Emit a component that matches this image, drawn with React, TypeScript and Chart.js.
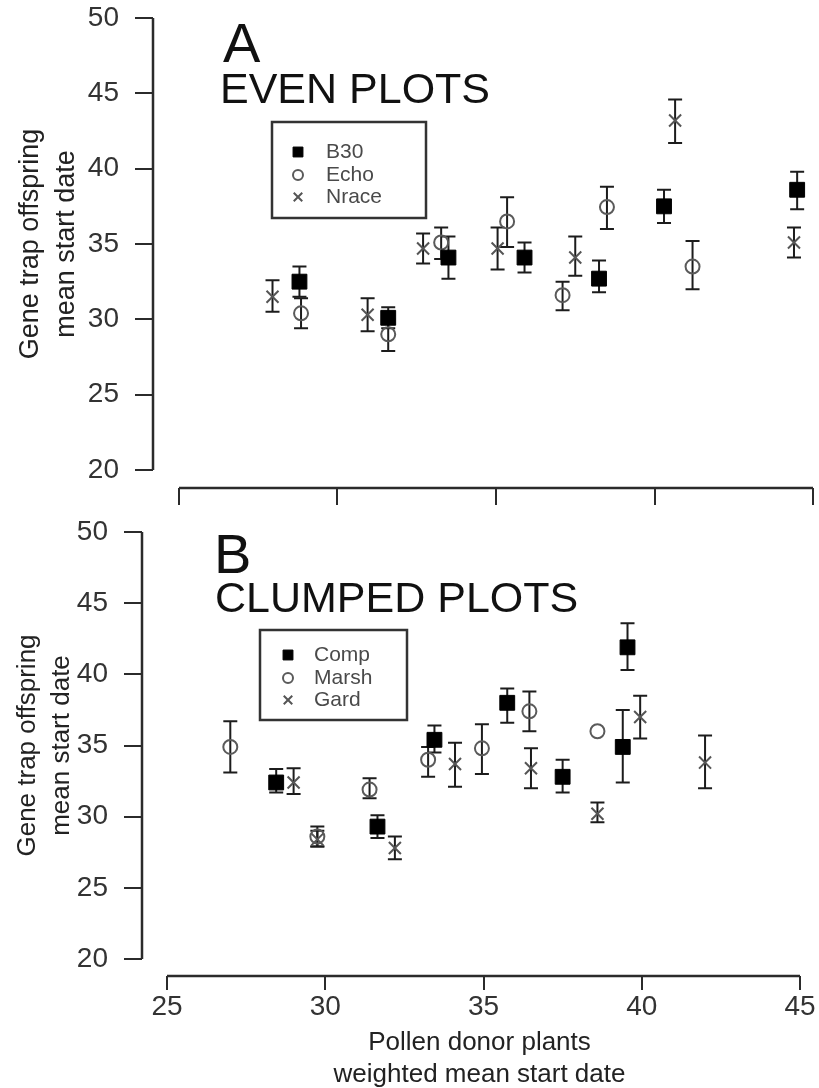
import React, { useEffect, useRef } from "react";
import { Chart, registerables } from "chart.js";
import { drawPoint } from "chart.js/helpers";

Chart.register(...registerables);

const FONT = "'Liberation Sans', Arial, Helvetica, sans-serif";

// ---- shared axes ----
const xTicks = [25, 30, 35, 40, 45];
const yTicks = [20, 25, 30, 35, 40, 45, 50];
const yTitle = ["Gene trap offspring", "mean start date"];
const xTitle = ["Pollen donor plants", "weighted mean start date"];

// ---- Panel A: EVEN PLOTS ----
const evenLabels = ["B30", "Echo", "Nrace"];
const evenB30X = [28.8, 31.6, 33.5, 35.9, 38.25, 40.3, 44.5];
const evenB30Y = [32.5, 30.1, 34.1, 34.1, 32.7, 37.5, 38.6];
const evenB30Lo = [31.5, 29.4, 32.7, 33.1, 31.8, 36.4, 37.3];
const evenB30Hi = [33.5, 30.8, 35.5, 35.1, 33.9, 38.6, 39.8];

const evenEchoX = [28.85, 31.6, 33.27, 35.35, 37.1, 38.5, 41.2];
const evenEchoY = [30.4, 29.0, 35.1, 36.5, 31.6, 37.45, 33.5];
const evenEchoLo = [29.4, 27.9, 34.0, 34.8, 30.6, 36.0, 32.0];
const evenEchoHi = [31.4, 30.0, 36.1, 38.1, 32.5, 38.8, 35.2];

const evenNraceX = [27.95, 30.95, 32.7, 35.05, 37.5, 40.65, 44.4];
const evenNraceY = [31.5, 30.3, 34.7, 34.7, 34.1, 43.2, 35.1];
const evenNraceLo = [30.5, 29.2, 33.7, 33.3, 32.9, 41.7, 34.1];
const evenNraceHi = [32.6, 31.4, 35.7, 36.1, 35.5, 44.6, 36.1];

// ---- Panel B: CLUMPED PLOTS ----
const clumpLabels = ["Comp", "Marsh", "Gard"];
const clumpCompX = [28.45, 31.65, 33.45, 35.75, 37.5, 39.55, 39.4];
const clumpCompY = [32.4, 29.3, 35.4, 38.0, 32.8, 41.9, 34.9];
const clumpCompLo = [31.7, 28.5, 34.5, 36.6, 31.7, 40.3, 32.4];
const clumpCompHi = [33.35, 30.1, 36.4, 39.0, 34.0, 43.6, 37.5];

const clumpMarshX = [27.0, 29.75, 31.4, 33.25, 34.95, 36.45, 38.6];
const clumpMarshY = [34.9, 28.6, 31.9, 34.0, 34.8, 37.4, 36.0];
const clumpMarshLo = [33.1, 27.9, 31.3, 32.8, 33.0, 36.0, null];
const clumpMarshHi = [36.7, 29.3, 32.7, 34.9, 36.5, 38.8, null];

const clumpGardX = [29.0, 29.75, 32.2, 34.1, 36.5, 38.6, 39.95, 42.0];
const clumpGardY = [32.4, 28.4, 27.8, 33.7, 33.4, 30.2, 37.0, 33.8];
const clumpGardLo = [31.6, 27.9, 27.0, 32.1, 32.0, 29.6, 35.5, 32.0];
const clumpGardHi = [33.4, 29.0, 28.6, 35.2, 34.8, 31.0, 38.5, 35.7];

// ---- marker styles ----
const squareStyle = { pointStyle: "rect", pointRadius: 10.5, backgroundColor: "#000", borderColor: "#000", borderWidth: 1, legendRadius: 7 };
const circleStyle = { pointStyle: "circle", pointRadius: 7, backgroundColor: "rgba(0,0,0,0)", borderColor: "#5a5a5a", borderWidth: 2, legendRadius: 5 };
const crossStyle = { pointStyle: "crossRot", pointRadius: 8.5, backgroundColor: "#555", borderColor: "#555", borderWidth: 2, legendRadius: 6 };

function series(label: string, xs: number[], ys: number[], lo: (number | null)[], hi: (number | null)[], style: any) {
  return {
    label,
    data: xs.map((x, i) => ({ x, y: ys[i] })),
    errLo: lo,
    errHi: hi,
    showLine: false,
    pointHoverRadius: style.pointRadius,
    ...style,
  };
}

const errorBars = {
  id: "errorBars",
  beforeDatasetsDraw(chart: any) {
    const { ctx } = chart;
    const xs = chart.scales.x;
    const ys = chart.scales.y;
    chart.data.datasets.forEach((ds: any) => {
      ctx.save();
      ctx.strokeStyle = "#1c1c1c";
      ctx.lineWidth = 2;
      ds.data.forEach((p: any, j: number) => {
        const lo = ds.errLo[j];
        const hi = ds.errHi[j];
        if (lo == null || hi == null) return;
        const x = xs.getPixelForValue(p.x);
        const y1 = ys.getPixelForValue(lo);
        const y2 = ys.getPixelForValue(hi);
        ctx.beginPath();
        ctx.moveTo(x, y1);
        ctx.lineTo(x, y2);
        ctx.moveTo(x - 7, y1);
        ctx.lineTo(x + 7, y1);
        ctx.moveTo(x - 7, y2);
        ctx.lineTo(x + 7, y2);
        ctx.stroke();
      });
      ctx.restore();
    });
  },
};

const rAxes = {
  id: "rAxes",
  afterDraw(chart: any) {
    const { ctx, chartArea } = chart;
    const xs = chart.scales.x;
    const ys = chart.scales.y;
    ctx.save();
    ctx.strokeStyle = "#2b2b2b";
    ctx.lineWidth = 2.5;
    ctx.beginPath();
    ctx.moveTo(chartArea.left, ys.getPixelForValue(yTicks[0]));
    ctx.lineTo(chartArea.left, ys.getPixelForValue(yTicks[yTicks.length - 1]));
    ctx.moveTo(xs.getPixelForValue(xTicks[0]), chartArea.bottom);
    ctx.lineTo(xs.getPixelForValue(xTicks[xTicks.length - 1]), chartArea.bottom);
    ctx.stroke();
    ctx.restore();
  },
};

const panelDecor = {
  id: "panelDecor",
  afterDraw(chart: any, _args: any, o: any) {
    const { ctx } = chart;
    ctx.save();
    ctx.fillStyle = "#111";
    ctx.textBaseline = "alphabetic";
    ctx.textAlign = "left";
    ctx.font = `56px ${FONT}`;
    ctx.fillText(o.letter, o.letterX, o.letterY);
    ctx.font = `43px ${FONT}`;
    ctx.fillText(o.title, o.titleX, o.titleY);
    // legend box
    const [bx, by, bw, bh] = o.box;
    ctx.strokeStyle = "#333";
    ctx.lineWidth = 2.5;
    ctx.strokeRect(bx, by, bw, bh);
    ctx.font = `21px ${FONT}`;
    ctx.textBaseline = "middle";
    chart.data.datasets.forEach((ds: any, i: number) => {
      const y = o.rowY[i];
      ctx.fillStyle = ds.backgroundColor;
      ctx.strokeStyle = ds.borderColor;
      ctx.lineWidth = ds.borderWidth;
      drawPoint(ctx, { pointStyle: ds.pointStyle, radius: ds.legendRadius, rotation: 0, borderWidth: ds.borderWidth }, o.symX, y);
      ctx.fillStyle = "#4a4a4a";
      ctx.fillText(ds.label, o.textX, y);
    });
    ctx.restore();
  },
};

function makeConfig(p: any) {
  return {
    type: "scatter",
    data: { datasets: p.datasets },
    options: {
      responsive: false,
      animation: false,
      devicePixelRatio: 1,
      layout: { autoPadding: false, padding: { top: p.padTop, right: 2, left: 0, bottom: 0 } },
      plugins: {
        legend: { display: false },
        tooltip: { enabled: false },
        panelDecor: p.decor,
      },
      scales: {
        x: {
          type: "linear",
          min: p.xMin,
          max: p.xMax,
          afterBuildTicks: (s: any) => {
            s.ticks = xTicks.map((v) => ({ value: v }));
          },
          afterFit: (s: any) => {
            s.height = p.xHeight;
            s.paddingLeft = 0;
            s.paddingRight = 0;
            s.paddingTop = 0;
            s.paddingBottom = 0;
          },
          grid: { drawOnChartArea: false, drawTicks: true, tickLength: p.xTickLen, color: "#2b2b2b", lineWidth: 2 },
          border: { display: false },
          ticks: {
            display: p.showXLabels,
            font: { family: FONT, size: 28 },
            color: "#333",
            padding: 0,
            maxRotation: 0,
          },
          title: {
            display: p.showXLabels,
            text: xTitle,
            font: { family: FONT, size: 26, lineHeight: "32px" },
            color: "#222",
            padding: { top: 0, bottom: -3 },
          },
        },
        y: {
          type: "linear",
          min: 18.8,
          max: 51.2,
          afterBuildTicks: (s: any) => {
            s.ticks = yTicks.map((v) => ({ value: v }));
          },
          afterFit: (s: any) => {
            s.width = p.yWidth;
            s.paddingLeft = 0;
            s.paddingRight = 0;
            s.paddingTop = 0;
            s.paddingBottom = 0;
          },
          grid: { drawOnChartArea: false, drawTicks: true, tickLength: 18, color: "#2b2b2b", lineWidth: 2 },
          border: { display: false },
          ticks: { font: { family: FONT, size: 28 }, color: "#333", padding: 16 },
          title: {
            display: true,
            text: yTitle,
            font: { family: FONT, size: p.yTitleSize, lineHeight: p.yTitleLH },
            color: "#222",
            padding: { top: p.yTitlePad, bottom: 0 },
          },
        },
      },
    },
    plugins: [errorBars, rAxes, panelDecor],
  };
}

function Panel({ config, top, height }: { config: any; top: number; height: number }) {
  const ref = useRef<HTMLCanvasElement | null>(null);
  useEffect(() => {
    const chart = new Chart(ref.current as HTMLCanvasElement, config);
    return () => chart.destroy();
  }, [config]);
  return (
    <canvas
      ref={ref}
      width={819}
      height={height}
      style={{ position: "absolute", left: 0, top, width: 819, height }}
    />
  );
}

const configA = makeConfig({
  datasets: [
    series(evenLabels[0], evenB30X, evenB30Y, evenB30Lo, evenB30Hi, squareStyle),
    series(evenLabels[1], evenEchoX, evenEchoY, evenEchoLo, evenEchoHi, circleStyle),
    series(evenLabels[2], evenNraceX, evenNraceY, evenNraceLo, evenNraceHi, crossStyle),
  ],
  padTop: 0,
  xMin: 24.18,
  xMax: 45.126,
  xHeight: 27,
  xTickLen: 17,
  yWidth: 153,
  showXLabels: false,
  yTitleSize: 27,
  yTitleLH: "36px",
  yTitlePad: 13,
  decor: {
    letter: "A",
    letterX: 223,
    letterY: 62,
    title: "EVEN PLOTS",
    titleX: 220,
    titleY: 103,
    box: [272, 122, 154, 96],
    symX: 298,
    textX: 326,
    rowY: [152, 175, 197],
  },
});

const configB = makeConfig({
  datasets: [
    series(clumpLabels[0], clumpCompX, clumpCompY, clumpCompLo, clumpCompHi, squareStyle),
    series(clumpLabels[1], clumpMarshX, clumpMarshY, clumpMarshLo, clumpMarshHi, circleStyle),
    series(clumpLabels[2], clumpGardX, clumpGardY, clumpGardLo, clumpGardHi, crossStyle),
  ],
  padTop: 10,
  xMin: 24.21,
  xMax: 45.537,
  xHeight: 112,
  xTickLen: 14,
  yWidth: 142,
  showXLabels: true,
  yTitleSize: 26,
  yTitleLH: "34px",
  yTitlePad: 11,
  decor: {
    letter: "B",
    letterX: 214,
    letterY: 573 - 505,
    title: "CLUMPED PLOTS",
    titleX: 215,
    titleY: 612 - 505,
    box: [260, 630 - 505, 147, 90],
    symX: 288,
    textX: 314,
    rowY: [655 - 505, 678 - 505, 700 - 505],
  },
});

export default function App() {
  return (
    <div style={{ position: "absolute", left: 0, top: 0, width: 819, height: 1088, background: "#fff" }}>
      <Panel config={configA} top={0} height={515} />
      <Panel config={configB} top={505} height={583} />
    </div>
  );
}
